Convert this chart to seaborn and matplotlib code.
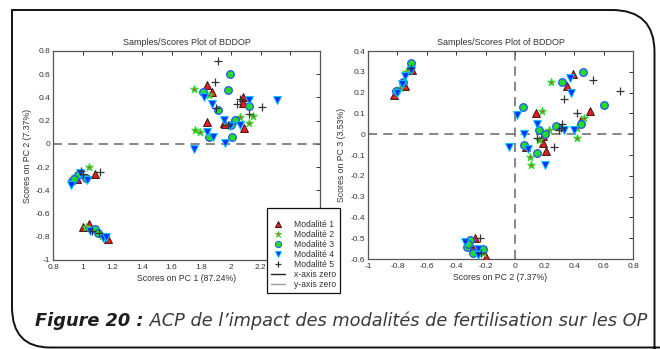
import matplotlib
matplotlib.use("Agg")
import matplotlib.pyplot as plt
from matplotlib.lines import Line2D
from matplotlib.path import Path
from matplotlib.patches import PathPatch
from matplotlib.transforms import Affine2D
from matplotlib.ticker import FuncFormatter, MultipleLocator
import seaborn as sns
import pandas as pd

# ---- scores: PC1 vs PC2 ----
pc1_m1 = [1.84, 1.87, 2.08, 2.08, 1.84, 1.95, 1.96, 2.09, 1.08, 0.96, 1.00, 1.04, 1.17]
pc2_m1 = [0.51, 0.45, 0.40, 0.35, 0.19, 0.18, 0.17, 0.14, -0.26, -0.30, -0.72, -0.69, -0.82]
pc1_m2 = [1.75, 1.85, 2.15, 2.06, 2.12, 1.76, 1.79, 1.04, 0.95, 1.02, 1.13]
pc2_m2 = [0.47, 0.42, 0.24, 0.23, 0.18, 0.12, 0.10, -0.20, -0.28, -0.72, -0.79]
pc1_m3 = [1.99, 1.98, 1.81, 2.12, 1.91, 2.03, 2.00, 1.85, 2.01, 0.97, 1.02, 0.93, 0.94, 1.08, 1.10]
pc2_m3 = [0.60, 0.46, 0.45, 0.33, 0.29, 0.21, 0.16, 0.06, 0.06, -0.27, -0.29, -0.32, -0.30, -0.73, -0.77]
pc1_m4 = [1.82, 2.12, 2.31, 1.87, 1.95, 1.99, 2.06, 1.84, 1.88, 1.96, 1.75, 0.98, 1.03, 0.92, 1.05, 1.14, 1.16]
pc2_m4 = [0.40, 0.38, 0.38, 0.34, 0.21, 0.15, 0.16, 0.10, 0.06, 0.01, -0.04, -0.25, -0.31, -0.35, -0.75, -0.81, -0.80]
pc1_m5 = [1.91, 1.89, 2.06, 2.04, 2.21, 1.90, 2.12, 1.98, 1.12, 0.99, 1.00, 1.06, 1.11]
pc2_m5 = [0.715, 0.535, 0.39, 0.34, 0.32, 0.31, 0.26, 0.16, -0.24, -0.23, -0.26, -0.75, -0.77]

# ---- scores: PC2 vs PC3 ----
b2_m1 = [-0.82, -0.75, -0.72, -0.70, 0.39, 0.35, 0.51, 0.14, 0.45, 0.19, 0.19, 0.07, 0.21, -0.27, -0.29, -0.20]
b3_m1 = [0.19, 0.23, 0.32, 0.31, 0.29, 0.23, 0.11, 0.10, 0.07, -0.01, -0.04, -0.06, -0.08, -0.50, -0.55, -0.59]
b2_m2 = [-0.78, -0.74, 0.24, 0.18, 0.47, 0.23, 0.42, 0.42, 0.16, 0.10, 0.11, -0.22]
b3_m2 = [0.22, 0.30, 0.25, 0.11, 0.08, 0.02, 0.03, -0.02, -0.03, -0.11, -0.15, -0.57]
b2_m3 = [-0.81, -0.76, -0.71, 0.46, 0.32, 0.60, 0.05, 0.45, 0.28, 0.16, 0.20, 0.06, 0.15, -0.31, -0.33, -0.29, -0.22, -0.32]
b3_m3 = [0.21, 0.25, 0.34, 0.30, 0.25, 0.14, 0.13, 0.05, 0.04, 0.02, 0.00, -0.05, -0.09, -0.51, -0.54, -0.57, -0.55, -0.53]
b2_m4 = [-0.80, -0.77, -0.75, -0.71, 0.37, 0.38, 0.01, 0.15, 0.33, 0.40, 0.06, -0.04, 0.09, 0.20, -0.34, -0.25, -0.25]
b3_m4 = [0.20, 0.24, 0.28, 0.31, 0.27, 0.20, 0.09, 0.05, 0.02, 0.02, 0.00, -0.06, -0.07, -0.15, -0.52, -0.55, -0.58]
b2_m5 = [-0.71, 0.53, 0.71, 0.33, 0.42, 0.32, 0.31, 0.30, 0.15, 0.26, -0.24, -0.23]
b3_m5 = [0.32, 0.26, 0.21, 0.17, 0.10, 0.05, 0.03, 0.02, -0.02, -0.06, -0.50, -0.57]

modalites = ["Modalité 1", "Modalité 2", "Modalité 3", "Modalité 4", "Modalité 5"]
panel_titles = ["Samples/Scores Plot of BDDOP", "Samples/Scores Plot of BDDOP"]
x_labels = ["Scores on PC 1 (87.24%)", "Scores on PC 2 (7.37%)"]
y_labels = ["Scores on PC 2 (7.37%)", "Scores on PC 3 (3.53%)"]
caption_bold = "Figure 20 :"
caption_rest = " ACP de l\u2019impact des modalités de fertilisation sur les OP"


def frame(xs, ys):
    rows = []
    for name, x, y in zip(modalites, xs, ys):
        rows += [{"x": a, "y": b, "mod": name} for a, b in zip(x, y)]
    return pd.DataFrame(rows)


left_df = frame([pc1_m1, pc1_m2, pc1_m3, pc1_m4, pc1_m5], [pc2_m1, pc2_m2, pc2_m3, pc2_m4, pc2_m5])
right_df = frame([b2_m1, b2_m2, b2_m3, b2_m4, b2_m5], [b3_m1, b3_m2, b3_m3, b3_m4, b3_m5])

styles = {
    "Modalité 1": dict(marker="^", color="#e02020", edgecolor="#401010", s=32, linewidth=0.7),
    "Modalité 2": dict(marker="*", color="#e03030", edgecolor="#33dd33", s=30, linewidth=0.9),
    "Modalité 3": dict(marker="o", color="#22dd22", edgecolor="#2255ff", s=30, linewidth=0.9),
    "Modalité 4": dict(marker="v", color="#0033ff", edgecolor="#00c8ff", s=32, linewidth=0.7),
    "Modalité 5": dict(marker="+", color="#333333", s=32, linewidth=0.9),
}

sns.set_style("white")
plt.rcParams["font.family"] = ["Liberation Sans", "DejaVu Sans"]
plt.rcParams["axes.unicode_minus"] = False

W, H = 660, 349
fig = plt.figure(figsize=(W / 100, H / 100), dpi=100)


def px_rect(x0, y0, x1, y1):
    return [x0 / W, 1 - y1 / H, (x1 - x0) / W, (y1 - y0) / H]


ax1 = fig.add_axes(px_rect(53, 51, 320, 260))
ax2 = fig.add_axes(px_rect(368, 51, 633, 259))


def tick_fmt(hidden=()):
    def f(v, p):
        v = round(v, 2)
        if any(abs(v - h) < 1e-6 for h in hidden):
            return ""
        return f"{v:g}"
    return FuncFormatter(f)


for ax, df, xl, yl, title, xlim, ylim, xstep, ystep, xhide in [
    (ax1, left_df, x_labels[0], y_labels[0], panel_titles[0], (0.8, 2.6), (-1, 0.8), 0.2, 0.2, (2.4, 2.6)),
    (ax2, right_df, x_labels[1], y_labels[1], panel_titles[1], (-1, 0.8), (-0.6, 0.4), 0.2, 0.1, ()),
]:
    ax.axhline(0, color="#666666", lw=1.1, ls=(0, (6, 4)), zorder=1)
    if xlim[0] < 0 < xlim[1]:
        ax.axvline(0, color="#666666", lw=1.1, ls=(0, (6, 4)), zorder=1)
    for name in modalites:
        sub = df[df["mod"] == name]
        sns.scatterplot(data=sub, x="x", y="y", ax=ax, legend=False, zorder=3, **styles[name])
    ax.set_xlim(*xlim)
    ax.set_ylim(*ylim)
    ax.xaxis.set_major_locator(MultipleLocator(xstep))
    ax.yaxis.set_major_locator(MultipleLocator(ystep))
    ax.xaxis.set_major_formatter(tick_fmt(xhide))
    ax.yaxis.set_major_formatter(tick_fmt())
    ax.tick_params(direction="in", length=3, width=0.7, top=True, right=True,
                   labelsize=6, colors="#333333", pad=2)
    ax.tick_params(axis="x", pad=3)
    for sp in ax.spines.values():
        sp.set_color("#555555")
        sp.set_linewidth(0.9)
    ax.set_xlabel(xl, fontsize=6.3, color="#333333", labelpad=2)
    ax.set_ylabel(yl, fontsize=6.3, color="#333333", labelpad=3)
    ax.set_title(title, fontsize=6.5, color="#333333", pad=4)

# legend placed between the panels
handles = []
for name in modalites:
    st = styles[name]
    if st["marker"] == "+":
        handles.append(Line2D([], [], ls="", marker="+", color=st["color"], markersize=4.5, mew=0.9))
    else:
        handles.append(Line2D([], [], ls="", marker=st["marker"], markerfacecolor=st["color"],
                              markeredgecolor=st["edgecolor"], markersize=4.5, mew=0.7))
handles.append(Line2D([], [], color="#222222", lw=1))
handles.append(Line2D([], [], color="#999999", lw=1))
labels = modalites + ["x-axis zero", "y-axis zero"]
leg = fig.legend(handles, labels, loc="upper left", bbox_to_anchor=(267 / W, 1 - 208 / H),
                 bbox_transform=fig.transFigure, fontsize=6.2, title=" ", title_fontsize=5,
                 frameon=True, fancybox=False, edgecolor="#111111", framealpha=1,
                 handlelength=1.6, handletextpad=1.1, labelspacing=0.12, borderpad=0.45,
                 borderaxespad=0)
leg.get_frame().set_linewidth(0.9)
for t in leg.get_texts():
    t.set_color("#333333")
leg.set_zorder(10)

# rounded outline around the figure
pix = Affine2D().scale(1 / W, -1 / H).translate(0, 1) + fig.transFigure
verts = [(680, 347.5), (50, 347.5), (12, 347.5), (12, 307), (12, 10), (612, 10),
         (654.5, 10), (654.5, 52), (654.5, 360)]
codes = [Path.MOVETO, Path.LINETO, Path.CURVE3, Path.CURVE3, Path.LINETO, Path.LINETO,
         Path.CURVE3, Path.CURVE3, Path.LINETO]
fig.patches.append(PathPatch(Path(verts, codes), transform=pix, fill=False,
                             edgecolor="#111111", lw=1.4, clip_on=False))

# caption: bold lead-in followed by the italic description, scaled to span the frame
cap_font = ["DejaVu Sans"]
x0, base, target = 35, 326, 613
size = 12.0
t1 = fig.text(x0 / W, 1 - base / H, caption_bold, fontsize=size, style="italic", weight="bold",
              family=cap_font, color="#1e1e1e", va="baseline")
t2 = fig.text(0, 1 - base / H, caption_rest, fontsize=size, style="italic",
              family=cap_font, color="#3a3a3a", va="baseline")
fig.canvas.draw()
total = t1.get_window_extent().width + t2.get_window_extent().width
size = size * target / total
t1.set_fontsize(size)
t2.set_fontsize(size)
fig.canvas.draw()
t2.set_x((x0 + t1.get_window_extent().width) / W)

fig.savefig("out.png", dpi=100)
